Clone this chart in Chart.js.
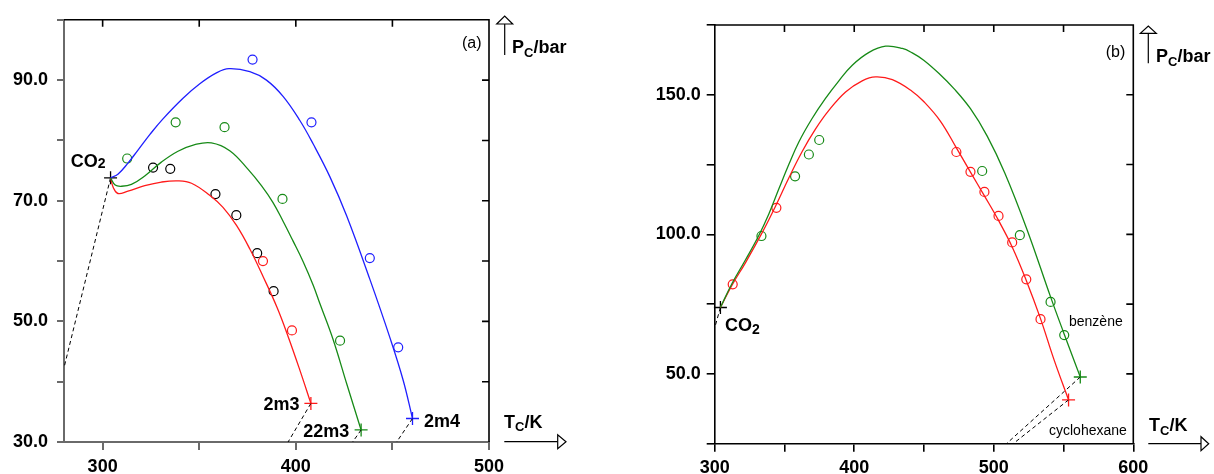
<!DOCTYPE html>
<html><head><meta charset="utf-8">
<script src="https://cdn.jsdelivr.net/npm/chart.js@4/dist/chart.umd.min.js"></script>
<style>
html,body{margin:0;padding:0;background:#fff;width:1214px;height:474px;overflow:hidden}
canvas{position:absolute;top:0}
#c1{left:0}
#c2{left:600px}
</style></head><body>
<canvas id="c1" width="600" height="474"></canvas>
<canvas id="c2" width="614" height="474"></canvas>
<script>
// ================= Panel (a) =================
const aXTicks = [300, 350, 400, 450, 500];
const aXLabels = [300, 400, 500];
const aYTicks = [30, 40, 50, 60, 70, 80, 90, 100];
const aYLabels = [30, 50, 70, 90];
const aTopTicks = [300, 350, 400, 450];
const aRightTicks = [40, 50, 60, 70, 80, 90];

// 2m4 (blue) calculated locus
const a2m4T = [304.1, 307.9, 313.0, 318.3, 324.5, 331.0, 341.6, 350.3, 358.9, 365.4, 376.2, 384.8, 393.4, 402.1, 409.0, 417.6, 426.3, 438.3, 448.7, 455.6, 460.4];
const a2m4P = [73.8, 74.4, 76.2, 78.4, 81.0, 83.5, 87.0, 89.4, 91.2, 91.9, 91.4, 90.0, 87.3, 83.3, 79.4, 74.0, 67.5, 57.0, 47.3, 40.2, 33.9];
// 22m3 (green) calculated locus
const a22m3T = [304.1, 306.5, 309.7, 314.9, 321.8, 330.4, 339.0, 347.7, 356.3, 365.8, 375.3, 382.2, 388.2, 393.4, 398.6, 403.8, 409.0, 412.4, 419.3, 426.3, 433.8];
const a22m3P = [73.8, 72.6, 72.4, 72.7, 74.1, 76.4, 78.2, 79.3, 79.6, 78.3, 75.2, 72.5, 69.7, 66.6, 63.3, 59.9, 56.0, 53.0, 47.0, 39.7, 32.0];
// 2m3 (red) calculated locus
const a2m3T = [304.1, 305.5, 307.9, 313.1, 321.8, 330.4, 339.0, 346.0, 355.4, 362.3, 369.3, 376.2, 383.1, 390.3, 396.0, 402.0, 407.8];
const a2m3P = [73.8, 72.2, 71.2, 71.6, 72.5, 73.1, 73.3, 72.9, 70.9, 68.9, 65.9, 62.0, 57.4, 52.3, 47.5, 42.0, 36.4];
// experimental points
const aExp2m4T = [377.6, 408.1, 438.3, 453.0];
const aExp2m4P = [93.4, 83.0, 60.5, 45.7];
const aExp22m3T = [312.7, 337.8, 363.1, 393.1, 422.9];
const aExp22m3P = [77.0, 83.0, 82.2, 70.3, 46.8];
const aExpBlackT = [326.1, 335.0, 358.4, 369.2, 380.0, 388.5];
const aExpBlackP = [75.5, 75.3, 71.1, 67.6, 61.3, 55.0];
const aExp2m3T = [383.0, 398.0];
const aExp2m3P = [60.0, 48.5];
// pure component critical points
const aCO2T = [304.1], aCO2P = [73.8];
const a2m4cT = [460.4], a2m4cP = [33.9];
const a22m3cT = [433.8], a22m3cP = [32.0];
const a2m3cT = [407.8], a2m3cP = [36.4];
// dashed vapour-pressure lines
const aDashCO2T = [304.1, 280.0], aDashCO2P = [73.8, 42.3];
const aDash2m3T = [407.8, 396.0], aDash2m3P = [36.4, 30.0];
const aDash22m3T = [433.8, 429.4], aDash22m3P = [32.0, 30.0];
const aDash2m4T = [460.4, 452.2], aDash2m4P = [33.9, 30.0];

// ================= Panel (b) =================
const bXTicks = [300, 350, 400, 450, 500, 550, 600];
const bXLabels = [300, 400, 500, 600];
const bYTicks = [25, 50, 75, 100, 125, 150, 175];
const bYLabels = [50, 100, 150];
const bTopTicks = [350, 400, 450, 500, 550];
const bRightTicks = [50, 75, 100, 125, 150];

const bBenzT = [304.1, 312.4, 322.0, 331.6, 338.8, 346.0, 353.1, 360.3, 369.8, 379.4, 389.0, 398.6, 410.6, 422.5, 434.5, 441.6, 449.8, 461.7, 471.3, 483.3, 495.3, 507.9, 524.0, 540.7, 550.3, 562.0];
const bBenzP = [73.8, 82.4, 90.8, 99.6, 107.3, 116.3, 125.0, 133.1, 141.5, 148.7, 155.0, 160.6, 165.2, 167.4, 166.6, 165.0, 162.4, 157.2, 152.3, 145.0, 135.2, 122.0, 101.5, 77.6, 64.5, 48.9];
const bCyclT = [304.1, 312.4, 322.0, 334.0, 343.5, 353.1, 362.7, 372.2, 381.8, 393.8, 405.7, 415.3, 427.3, 441.6, 449.8, 461.7, 473.2, 483.3, 493.3, 503.4, 513.2, 523.3, 533.5, 543.1, 553.6];
const bCyclP = [73.8, 81.8, 89.8, 100.6, 110.0, 120.2, 129.7, 137.7, 144.4, 151.0, 155.0, 156.4, 155.4, 151.2, 147.6, 140.6, 131.0, 122.3, 113.8, 105.0, 95.5, 83.5, 69.8, 55.2, 40.7];
const bExpBenzT = [333.5, 357.6, 367.5, 374.9, 491.7, 518.7, 540.7, 550.5];
const bExpBenzP = [99.4, 120.8, 128.6, 133.8, 122.7, 99.7, 75.8, 63.9];
const bExpCyclT = [312.9, 344.2, 473.2, 483.3, 493.3, 503.4, 513.2, 523.3, 533.5];
const bExpCyclP = [82.1, 109.5, 129.5, 122.4, 115.2, 106.6, 97.1, 83.9, 69.6];
const bCO2T = [304.1], bCO2P = [73.8];
const bBenzcT = [562.0], bBenzcP = [48.9];
const bCyclcT = [553.6], bCyclcP = [40.7];
const bDashCO2T = [304.1, 300.0], bDashCO2P = [73.8, 66.5];
const bDashBenzT = [562.0, 509.1], bDashBenzP = [48.9, 25.0];
const bDashCyclT = [553.6, 513.9], bDashCyclP = [40.7, 25.0];

// ================= helpers =================
const FONT = '"Liberation Sans", Arial, Helvetica, sans-serif';
const BLUE = '#1f1fff', GREEN = '#178a17', RED = '#ff1a1a', BLACK = '#000';
function pts(T, P) { return T.map((t, i) => ({ x: t, y: P[i] })); }
function curve(T, P, c) { return { data: pts(T, P), showLine: true, borderColor: c, borderWidth: 1.3, pointRadius: 0, pointHoverRadius: 0, tension: 0.4, fill: false }; }
function circles(T, P, c) { return { data: pts(T, P), showLine: false, pointStyle: 'circle', pointRadius: 4.5, pointHoverRadius: 4.5, pointBorderColor: c, borderColor: c, pointBorderWidth: 1.2, pointBackgroundColor: 'rgba(0,0,0,0)', backgroundColor: 'rgba(0,0,0,0)', clip: false }; }
function cross(T, P, c) { return { data: pts(T, P), showLine: false, pointStyle: 'cross', pointRadius: 6.5, pointHoverRadius: 6.5, pointBorderColor: c, borderColor: c, pointBorderWidth: 1.3, clip: false }; }
function dashed(T, P) { return { data: pts(T, P), showLine: true, borderColor: '#000', borderWidth: 1, borderDash: [4, 3], pointRadius: 0, pointHoverRadius: 0, tension: 0, fill: false }; }

function subText(ctx, x, y, main, sub, rest, size, subSize, dy) {
  ctx.font = 'bold ' + size + 'px ' + FONT;
  ctx.fillText(main, x, y);
  let w = ctx.measureText(main).width;
  ctx.font = 'bold ' + subSize + 'px ' + FONT;
  ctx.fillText(sub, x + w, y + dy);
  w += ctx.measureText(sub).width;
  if (rest) { ctx.font = 'bold ' + size + 'px ' + FONT; ctx.fillText(rest, x + w, y); }
}

function decorPlugin(d) {
  return {
    id: 'decor',
    afterDraw(chart) {
      const ctx = chart.ctx, a = chart.chartArea, xs = chart.scales.x, ys = chart.scales.y, o = d.offset;
      ctx.save();
      ctx.strokeStyle = '#000'; ctx.lineWidth = d.frameW; ctx.lineCap = 'butt';
      ctx.beginPath();
      ctx.moveTo(a.left, a.top); ctx.lineTo(a.right, a.top); ctx.lineTo(a.right, a.bottom);
      d.topTicks.forEach(v => { const x = xs.getPixelForValue(v); ctx.moveTo(x, a.top); ctx.lineTo(x, a.top + d.tl); });
      d.rightTicks.forEach(v => { const y = ys.getPixelForValue(v); ctx.moveTo(a.right, y); ctx.lineTo(a.right - d.tl, y); });
      ctx.stroke();
      ctx.lineWidth = 1.2; ctx.strokeStyle = '#000'; ctx.fillStyle = '#fff';
      const va = d.vArrow;
      ctx.beginPath(); ctx.moveTo(va.x - o, va.bottom); ctx.lineTo(va.x - o, va.base); ctx.stroke();
      ctx.beginPath(); ctx.moveTo(va.x - o - 8, va.base); ctx.lineTo(va.x - o + 8, va.base); ctx.lineTo(va.x - o, va.tip); ctx.closePath(); ctx.fill(); ctx.stroke();
      const ha = d.hArrow;
      ctx.beginPath(); ctx.moveTo(ha.x0 - o, ha.y); ctx.lineTo(ha.base - o, ha.y); ctx.stroke();
      ctx.beginPath(); ctx.moveTo(ha.base - o, ha.y - 7); ctx.lineTo(ha.base - o, ha.y + 7); ctx.lineTo(ha.tip - o, ha.y); ctx.closePath(); ctx.fill(); ctx.stroke();
      ctx.fillStyle = '#000'; ctx.textBaseline = 'alphabetic'; ctx.textAlign = 'left';
      subText(ctx, d.pc.x - o, d.pc.y, 'P', 'C', '/bar', 18, 13, 3.5);
      subText(ctx, d.tc.x - o, d.tc.y, 'T', 'C', '/K', 18, 13, 3.5);
      ctx.font = '16px ' + FONT; ctx.fillText(d.tag.t, d.tag.x - o, d.tag.y);
      subText(ctx, d.co2.x - o, d.co2.y, 'CO', '2', '', 18, 14, d.co2.dy);
      d.bold.forEach(t => { ctx.font = 'bold 18px ' + FONT; ctx.fillText(t.t, t.x - o, t.y); });
      d.normal.forEach(t => { ctx.font = '14px ' + FONT; ctx.fillText(t.t, t.x - o, t.y); });
      ctx.restore();
    }
  };
}

function axes(xmin, xmax, ymin, ymax, xT, xL, yT, yL, yW, xH, col, bw, tlx, tly, padX, padY) {
  return {
    x: {
      type: 'linear', position: 'bottom', min: xmin, max: xmax,
      afterBuildTicks: s => { s.ticks = xT.map(v => ({ value: v })); },
      afterFit: s => { s.height = xH; },
      ticks: { autoSkip: false, maxRotation: 0, padding: padX, color: '#000', font: { family: FONT, size: 18, weight: 'bold' }, callback: v => xL.includes(v) ? String(v) : '' },
      grid: { drawOnChartArea: false, drawTicks: true, tickLength: tlx, color: col, lineWidth: bw },
      border: { display: true, color: col, width: bw }
    },
    y: {
      type: 'linear', position: 'left', min: ymin, max: ymax,
      afterBuildTicks: s => { s.ticks = yT.map(v => ({ value: v })); },
      afterFit: s => { s.width = yW; },
      ticks: { autoSkip: false, padding: padY, color: '#000', font: { family: FONT, size: 18, weight: 'bold' }, callback: v => yL.includes(v) ? v.toFixed(1) : '' },
      grid: { drawOnChartArea: false, drawTicks: true, tickLength: tly, color: col, lineWidth: bw },
      border: { display: true, color: col, width: bw }
    }
  };
}

const common = { responsive: false, animation: false, devicePixelRatio: 1, events: [],
  plugins: { legend: { display: false }, tooltip: { enabled: false } } };

new Chart(document.getElementById('c1'), {
  type: 'scatter',
  data: { datasets: [
    curve(a2m4T, a2m4P, BLUE), curve(a22m3T, a22m3P, GREEN), curve(a2m3T, a2m3P, RED),
    dashed(aDashCO2T, aDashCO2P), dashed(aDash2m3T, aDash2m3P), dashed(aDash22m3T, aDash22m3P), dashed(aDash2m4T, aDash2m4P),
    circles(aExp2m4T, aExp2m4P, BLUE), circles(aExp22m3T, aExp22m3P, GREEN), circles(aExpBlackT, aExpBlackP, BLACK), circles(aExp2m3T, aExp2m3P, RED),
    cross(aCO2T, aCO2P, BLACK), cross(a2m4cT, a2m4cP, BLUE), cross(a22m3cT, a22m3cP, GREEN), cross(a2m3cT, a2m3cP, RED)
  ] },
  options: Object.assign({}, common, {
    layout: { padding: { left: 0, top: 16, right: 111, bottom: 0 } },
    scales: axes(280, 500, 30, 100, aXTicks, aXLabels, aYTicks, aYLabels, 64, 32, '#6a6a6a', 2, 8, 7, 6, 9)
  }),
  plugins: [decorPlugin({
    offset: 0, frameW: 1.6, tl: 7, topTicks: aTopTicks, rightTicks: aRightTicks,
    vArrow: { x: 504.7, tip: 16, base: 24, bottom: 55 },
    hArrow: { y: 441.7, x0: 504.3, base: 557.7, tip: 566 },
    pc: { x: 512, y: 53.3 }, tc: { x: 504, y: 427.7 },
    tag: { t: '(a)', x: 462, y: 48 },
    co2: { x: 70.7, y: 166.7, dy: 1 },
    bold: [{ t: '2m3', x: 263.5, y: 410 }, { t: '22m3', x: 303.3, y: 436.7 }, { t: '2m4', x: 424, y: 427.3 }],
    normal: []
  })]
});

new Chart(document.getElementById('c2'), {
  type: 'scatter',
  data: { datasets: [
    curve(bBenzT, bBenzP, GREEN), curve(bCyclT, bCyclP, RED),
    dashed(bDashCO2T, bDashCO2P), dashed(bDashBenzT, bDashBenzP), dashed(bDashCyclT, bDashCyclP),
    circles(bExpBenzT, bExpBenzP, GREEN), circles(bExpCyclT, bExpCyclP, RED),
    cross(bCO2T, bCO2P, BLACK), cross(bBenzcT, bBenzcP, GREEN), cross(bCyclcT, bCyclcP, RED)
  ] },
  options: Object.assign({}, common, {
    layout: { padding: { left: 0, top: 25, right: 80.7, bottom: 0 } },
    scales: axes(300, 600, 25, 175, bXTicks, bXLabels, bYTicks, bYLabels, 114.7, 30.3, '#000', 1.6, 8, 8, 6, 6)
  }),
  plugins: [decorPlugin({
    offset: 600, frameW: 1.6, tl: 7, topTicks: bTopTicks, rightTicks: bRightTicks,
    vArrow: { x: 1148.3, tip: 26, base: 33.3, bottom: 63.3 },
    hArrow: { y: 443.7, x0: 1148.3, base: 1201, tip: 1208.7 },
    pc: { x: 1156, y: 62.3 }, tc: { x: 1149, y: 431 },
    tag: { t: '(b)', x: 1105.7, y: 56.5 },
    co2: { x: 725, y: 331, dy: 3 },
    bold: [],
    normal: [{ t: 'benzène', x: 1069, y: 326 }, { t: 'cyclohexane', x: 1049, y: 435 }]
  })]
});
</script>
</body></html>
